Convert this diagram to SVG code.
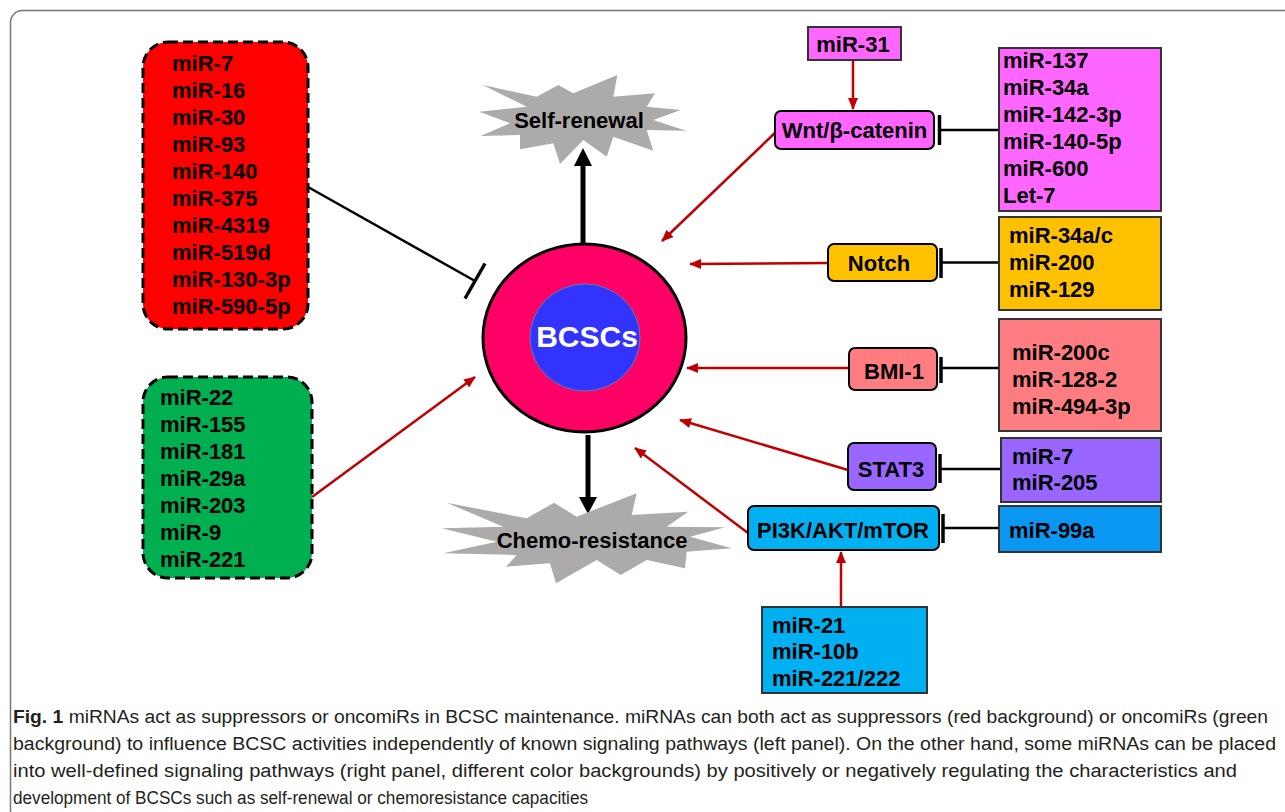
<svg xmlns="http://www.w3.org/2000/svg" width="1285" height="812" viewBox="0 0 1285 812">
<defs>
<style>
.t{font-family:"Liberation Sans",Arial,sans-serif;font-weight:bold;font-size:22px;fill:#000}
.c{text-anchor:middle}
.dash{stroke:#000;stroke-width:3;stroke-dasharray:10 5}
.pw{stroke:#000;stroke-width:2}
.mb{stroke:#333;stroke-width:2}
.ra{stroke:#C00000;stroke-width:2.5;fill:none;marker-end:url(#rh)}
.inh{stroke:#000;stroke-width:2.5}
.bar{stroke:#000;stroke-width:3.5}
.burst{fill:#ADAAAA}
.cap{font-family:"Liberation Sans",Arial,sans-serif;font-size:18px;fill:#231F20}
</style>
<marker id="rh" markerUnits="userSpaceOnUse" markerWidth="12" markerHeight="10" refX="11" refY="5" orient="auto">
<path d="M0,0 L12,5 L0,10 Z" fill="#C00000"/>
</marker>
</defs>
<rect x="0" y="0" width="1285" height="812" fill="#fff"/>
<rect x="10.5" y="10.5" width="1320" height="900" rx="12" fill="none" stroke="#777" stroke-width="1.5"/>

<g id="connectors">
<line class="inh" x1="308" y1="187" x2="475" y2="281"/>
<line class="bar" x1="485" y1="263.5" x2="465" y2="298.5"/>
<line class="ra" x1="312" y1="497" x2="475" y2="377"/>
<line x1="583" y1="244" x2="583" y2="164" stroke="#000" stroke-width="5"/>
<polygon points="574,166 592,166 583,148" fill="#000"/>
<line x1="588" y1="435" x2="588" y2="499" stroke="#000" stroke-width="5"/>
<polygon points="579,497 597,497 588,514" fill="#000"/>
<line class="ra" x1="777" y1="131" x2="662" y2="241"/>
<line class="ra" x1="828" y1="263" x2="690" y2="264"/>
<line class="ra" x1="849" y1="368" x2="687" y2="368"/>
<line class="ra" x1="848" y1="470" x2="680" y2="420"/>
<line class="ra" x1="748" y1="533" x2="635" y2="448"/>
<line class="ra" x1="853" y1="60" x2="853" y2="109"/>
<line class="ra" x1="841" y1="607" x2="841" y2="552"/>
<line class="inh" x1="940" y1="130" x2="999" y2="130"/>
<line class="bar" x1="939.5" y1="115" x2="939.5" y2="145"/>
<line class="inh" x1="941" y1="262.5" x2="999" y2="262.5"/>
<line class="bar" x1="941" y1="248" x2="941" y2="278"/>
<line class="inh" x1="941" y1="368" x2="999" y2="368"/>
<line class="bar" x1="941" y1="357" x2="941" y2="383"/>
<line class="inh" x1="940" y1="469" x2="1001" y2="469"/>
<line class="bar" x1="940" y1="454" x2="940" y2="483"/>
<line class="inh" x1="943" y1="528" x2="999" y2="528"/>
<line class="bar" x1="943" y1="514" x2="943" y2="543"/>
</g>

<g id="suppressors">
<rect class="dash" x="143" y="42" width="165" height="287" rx="25" fill="#FF0000"/>
<text class="t" x="172" y="71">miR-7</text>
<text class="t" x="172" y="98">miR-16</text>
<text class="t" x="172" y="125">miR-30</text>
<text class="t" x="172" y="152">miR-93</text>
<text class="t" x="172" y="179">miR-140</text>
<text class="t" x="172" y="206">miR-375</text>
<text class="t" x="172" y="233">miR-4319</text>
<text class="t" x="172" y="260">miR-519d</text>
<text class="t" x="172" y="287">miR-130-3p</text>
<text class="t" x="172" y="314">miR-590-5p</text>
</g>

<g id="oncomirs">
<rect class="dash" x="143" y="377" width="169" height="201" rx="25" fill="#00B050"/>
<text class="t" x="160" y="405">miR-22</text>
<text class="t" x="160" y="432">miR-155</text>
<text class="t" x="160" y="459">miR-181</text>
<text class="t" x="160" y="486">miR-29a</text>
<text class="t" x="160" y="513">miR-203</text>
<text class="t" x="160" y="540">miR-9</text>
<text class="t" x="160" y="567">miR-221</text>
</g>

<g id="bcscs">
<ellipse cx="584.5" cy="338" rx="101.5" ry="94" fill="#FF0066" stroke="#000" stroke-width="3"/>
<ellipse cx="585" cy="337.5" rx="55" ry="53.5" fill="#3333FF" stroke="#5B7FA8" stroke-width="1"/>
<text class="t c" x="587" y="347" style="font-size:30px;fill:#fff">BCSCs</text>
</g>

<g id="self-renewal">
<polygon class="burst" points="482.7,85 536.7,96.7 558.3,85 573.3,93.3 617.3,75 613.3,96.7 655,93.3 646.7,106.7 680.7,110 653.3,120 686,130.7 646.7,130 653.3,150.7 613.3,136.7 606.7,156.7 583.3,140 560,164 553.3,143.3 520,149.3 520,135 480.7,136 510,123.3 479.3,111.7 526.7,106.7"/>
<text class="t c" x="579" y="128">Self-renewal</text>
</g>

<g id="chemo-resistance">
<polygon class="burst" points="446.7,502.7 526.7,518.3 554,502.7 576.7,516.7 636.7,493.3 631.7,515 688.3,511.7 666.7,526.7 725,527.3 690,536.7 731.7,548.3 686.7,551.7 685,568.3 646.7,560 620.7,575 596.7,560 556,583.3 550,563.3 506,566.7 516.7,555 443.3,553.3 496.7,541.7 441.7,528.3 503.3,526.7"/>
<text class="t c" x="592" y="548">Chemo-resistance</text>
</g>

<g id="mir-31">
<rect class="mb" x="808" y="27" width="93" height="33" fill="#FF66FF"/>
<text class="t c" x="853" y="52">miR-31</text>
</g>

<g id="wnt">
<rect class="pw" x="775" y="111" width="159" height="38" rx="6" fill="#FF66FF"/>
<text class="t c" x="854.5" y="138">Wnt/β-catenin</text>
</g>
<g id="wnt-mirs">
<rect class="mb" x="999" y="48" width="162" height="163" fill="#FF66FF"/>
<text class="t" x="1003" y="68">miR-137</text>
<text class="t" x="1003" y="95">miR-34a</text>
<text class="t" x="1003" y="122">miR-142-3p</text>
<text class="t" x="1003" y="149">miR-140-5p</text>
<text class="t" x="1003" y="176">miR-600</text>
<text class="t" x="1003" y="203">Let-7</text>
</g>

<g id="notch">
<rect class="pw" x="828" y="244" width="109" height="37" rx="6" fill="#FFC000"/>
<text class="t c" x="879" y="271">Notch</text>
</g>
<g id="notch-mirs">
<rect class="mb" x="999" y="217" width="162" height="93" fill="#FFC000"/>
<text class="t" x="1009" y="243">miR-34a/c</text>
<text class="t" x="1009" y="270">miR-200</text>
<text class="t" x="1009" y="297">miR-129</text>
</g>

<g id="bmi1">
<rect class="pw" x="849" y="348" width="88" height="42" rx="6" fill="#FF7C80"/>
<text class="t c" x="894" y="379">BMI-1</text>
</g>
<g id="bmi1-mirs">
<rect class="mb" x="999" y="319" width="162" height="112" fill="#FF7C80"/>
<text class="t" x="1012" y="360">miR-200c</text>
<text class="t" x="1012" y="387">miR-128-2</text>
<text class="t" x="1012" y="414">miR-494-3p</text>
</g>

<g id="stat3">
<rect class="pw" x="848" y="443" width="88" height="47" rx="6" fill="#9966FF"/>
<text class="t c" x="891" y="477">STAT3</text>
</g>
<g id="stat3-mirs">
<rect class="mb" x="1001" y="438" width="160" height="64" fill="#9966FF"/>
<text class="t" x="1012" y="464">miR-7</text>
<text class="t" x="1012" y="490">miR-205</text>
</g>

<g id="pi3k">
<rect class="pw" x="748" y="506" width="191" height="44" rx="6" fill="#00B0F0"/>
<text class="t c" x="843" y="538">PI3K/AKT/mTOR</text>
</g>
<g id="pi3k-inhibitor">
<rect class="mb" x="999" y="506" width="162" height="46" fill="#0A97F2"/>
<text class="t" x="1009" y="538">miR-99a</text>
</g>
<g id="pi3k-activators">
<rect class="mb" x="762" y="607" width="165" height="86" fill="#00B0F0"/>
<text class="t" x="772" y="633">miR-21</text>
<text class="t" x="772" y="659">miR-10b</text>
<text class="t" x="772" y="686">miR-221/222</text>
</g>

<g id="caption">
<text class="cap" x="13" y="723" textLength="1255" lengthAdjust="spacingAndGlyphs"><tspan font-weight="bold">Fig. 1</tspan>  miRNAs act as suppressors or oncomiRs in BCSC maintenance. miRNAs can both act as suppressors (red background) or oncomiRs (green</text>
<text class="cap" x="13" y="750" textLength="1263" lengthAdjust="spacingAndGlyphs">background) to influence BCSC activities independently of known signaling pathways (left panel). On the other hand, some miRNAs can be placed</text>
<text class="cap" x="13" y="777" textLength="1224" lengthAdjust="spacingAndGlyphs">into well-defined signaling pathways (right panel, different color backgrounds) by positively or negatively regulating the characteristics and</text>
<text class="cap" x="13" y="804" textLength="575" lengthAdjust="spacingAndGlyphs">development of BCSCs such as self-renewal or chemoresistance capacities</text>
</g>
</svg>
